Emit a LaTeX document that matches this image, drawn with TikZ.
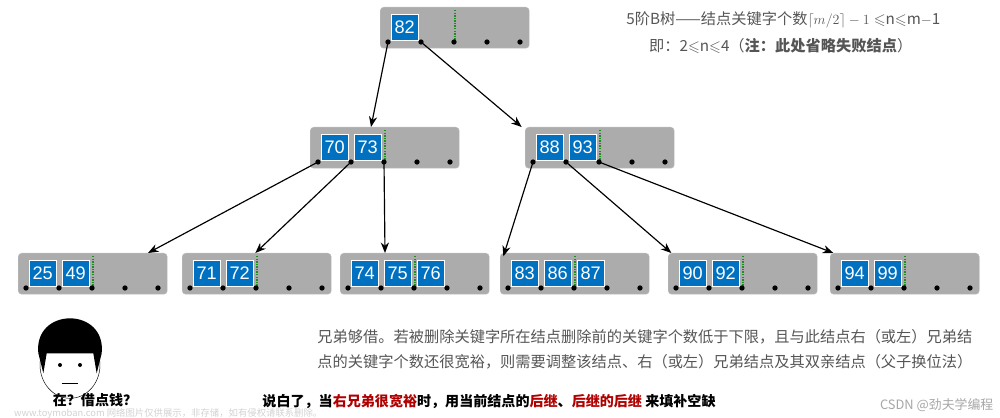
\documentclass[tikz,border=0pt]{standalone}
\usepackage{amssymb}
\usepackage{fontspec}
\setsansfont{Liberation Sans}
\newfontfamily\cjk{Noto Sans CJK SC}
\usetikzlibrary{positioning}
\usetikzlibrary{arrows.meta}
\usetikzlibrary{calc}
\definecolor{boxgray}{HTML}{ACACAC}
\definecolor{keyblue}{HTML}{0070C0}
\definecolor{txtgray}{HTML}{555555}
\definecolor{darkred}{HTML}{B00000}
\definecolor{dotgreen}{HTML}{1E8C1E}
\tikzset{
  btbox/.style={fill=boxgray,draw=boxgray!80,rounded corners=3pt,minimum width=4.47cm,minimum height=1.23cm,anchor=north west,inner sep=0pt},
  keybox/.style={fill=keyblue,draw=white,line width=0.6pt,text=white,minimum width=0.8cm,minimum height=0.78cm,inner sep=0pt,anchor=north west,font=\sffamily\fontsize{15.5}{15.5}\selectfont},
  ptr/.style={circle,fill=black,inner sep=0pt,minimum size=4.5pt},
  link/.style={-{Stealth[length=9pt,width=7pt]},line width=1pt}
}
% one B-tree node: name, left, top, list of keys
\newcommand{\btnode}[4]{%
  \node[btbox] (#1) at (#2,#3) {};
  \foreach \k [count=\i from 0] in {#4}
    \node[keybox] (#1k\i) at ($(#1.north west)+(0.33+0.99*\i,-0.21)$) {\k};
  \draw[dotgreen,densely dotted,line width=1.2pt] ($(#1.north west)+(2.25,-0.09)$) -- ($(#1.north west)+(2.25,-1.05)$);
  \foreach \i in {0,...,4}
    \node[ptr] (#1p\i) at ($(#1.north west)+(0.24+0.99*\i,-1.05)$) {};
}
\begin{document}
\begin{tikzpicture}
\useasboundingbox (0,0) rectangle (30,-12.54);
% tree
\btnode{nroot}{11.4}{-0.21}{82}
\btnode{nl}{9.3}{-3.81}{70,73}
\btnode{nr}{15.75}{-3.81}{88,93}
\btnode{na}{0.54}{-7.59}{25,49}
\btnode{nb}{5.46}{-7.59}{71,72}
\btnode{nc}{10.2}{-7.59}{74,75,76}
\btnode{nd}{15.0}{-7.59}{83,86,87}
\btnode{ne}{20.04}{-7.59}{90,92}
\btnode{nf}{24.9}{-7.59}{94,99}
% links
\draw[link] (nrootp0.center) -- ($(nl.north west)+(1.83,0)$);
\draw[link] (nrootp1.center) -- ($(nr.north west)+(-0.1,0)$);
\draw[link] (nlp0.center) -- ($(na.north west)+(3.9,0)$);
\draw[link] (nlp1.center) -- ($(nb.north west)+(2.2,0)$);
\draw[link] (nlp2.center) -- ($(nc.north west)+(1.35,0)$);
\draw[link] (nrp0.center) -- ($(nd.north west)+(0.1,-0.1)$);
\draw[link] (nrp1.center) -- ($(ne.north west)+(0.1,0)$);
\draw[link] (nrp2.center) -- ($(nf.north west)+(0.1,0)$);
% notes
\node[txtgray,font=\cjk\fontsize{13}{13}\selectfont] (nrule) at (23.5,-0.6)
  {5阶B树——结点关键字个数$\lceil m/2\rceil-1\leqslant$n$\leqslant$m$-$1};
\node[txtgray,font=\cjk\fontsize{13}{13}\selectfont,anchor=west] (nrange) at (19.35,-1.38)
  {即：2$\leqslant$n$\leqslant$4（\textbf{注：此处省略失败结点}）};
\node[txtgray,font=\cjk\fontsize{13}{22}\selectfont,anchor=north west,align=left] (npara) at (9.4,-9.75)
  {兄弟够借。若被删除关键字所在结点删除前的关键字个数低于下限，且与此结点右（或左）兄弟结\\
   点的关键字个数还很宽裕，则需要调整该结点、右（或左）兄弟结点及其双亲结点（父子换位法）};
\node[font=\cjk\bfseries\fontsize{12}{12}\selectfont,anchor=west] (nsum) at (7.75,-12.05)
  {说白了，当\textcolor{darkred}{右兄弟很宽裕}时，用当前结点的\textcolor{darkred}{后继}、\textcolor{darkred}{后继的后继} 来填补空缺};
\node[gray!70,font=\cjk\fontsize{11}{11}\selectfont] (ncsdn) at (28.1,-12.15) {CSDN @劲夫学编程};
\node[gray!35,font=\cjk\fontsize{8}{8}\selectfont,anchor=west] (nwm) at (0.3,-12.42) {www.toymoban.com 网络图片仅供展示，非存储，如有侵权请联系删除。};
% face
\draw[black,fill=white] (2.1,-10.95) ellipse (0.9 and 1.0);
\fill[black] (1.15,-10.6) .. controls (1.0,-9.2) and (3.2,-9.2) .. (3.05,-10.6) -- (2.9,-11.2) -- (2.8,-10.6) -- (1.4,-10.6) -- (1.3,-11.2) -- cycle;
\fill (1.8,-10.95) circle (0.06) (2.4,-10.95) circle (0.06);
\draw[thick] (1.85,-11.5) -- (2.35,-11.5);
\node[font=\cjk\bfseries\fontsize{12}{12}\selectfont] (nface) at (2.85,-12.0) {在？借点钱？};
\end{tikzpicture}
\end{document}
